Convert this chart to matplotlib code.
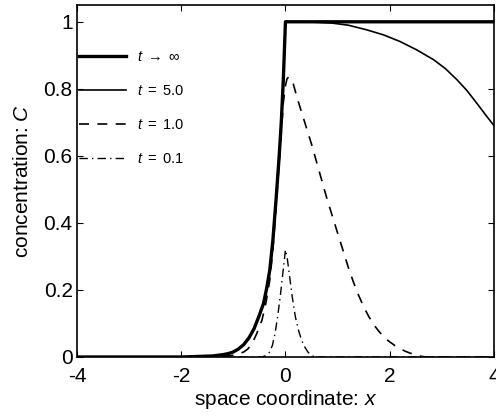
import matplotlib
matplotlib.use("Agg")
import matplotlib.pyplot as plt

# values
x_inf = [-4, -2.0, -1.6, -1.4, -1.2, -1.1, -1.0, -0.9, -0.8, -0.7, -0.6, -0.5, -0.42,
         -0.36, -0.3, -0.24, -0.18, -0.12, -0.08, -0.04, 0.0, 4]
c_inf = [0, 0.0, 0.002, 0.003, 0.007, 0.01, 0.015, 0.024, 0.037, 0.057, 0.085, 0.125, 0.16,
         0.205, 0.26, 0.35, 0.47, 0.60, 0.70, 0.83, 1.0, 1.0]

x_5 = [-4, -2.0, -1.6, -1.4, -1.2, -1.1, -1.0, -0.9, -0.8, -0.7, -0.6, -0.5, -0.42,
       -0.36, -0.3, -0.24, -0.18, -0.12, -0.08, -0.04, 0.0,
       0.4, 0.9, 1.2, 1.56, 1.88, 2.2, 2.52, 2.84, 3.07, 3.29, 3.48, 3.67, 3.85, 4.0]
c_5 = [0, 0.0, 0.002, 0.003, 0.007, 0.01, 0.015, 0.024, 0.037, 0.057, 0.085, 0.125, 0.16,
       0.205, 0.26, 0.35, 0.47, 0.60, 0.70, 0.83, 1.0,
       1.0, 0.996, 0.99, 0.976, 0.961, 0.941, 0.916, 0.887, 0.86, 0.827, 0.795, 0.757,
       0.72, 0.69]

x_1 = [-4, -1.4, -1.2, -1.0, -0.9, -0.8, -0.72, -0.64, -0.55, -0.45, -0.37, -0.3,
       -0.24, -0.18, -0.12, -0.08, -0.04, 0.0, 0.03, 0.06, 0.1, 0.15, 0.22, 0.3, 0.4,
       0.5, 0.6, 0.7, 0.8, 0.9, 1.0, 1.1, 1.2, 1.3, 1.4, 1.5, 1.6, 1.7, 1.8, 1.9, 2.0,
       2.1, 2.2, 2.3, 2.4, 2.5, 2.6, 2.7, 4]
c_1 = [0, 0.0, 0.002, 0.005, 0.009, 0.015, 0.024, 0.04, 0.07, 0.11, 0.165, 0.23,
       0.32, 0.45, 0.58, 0.67, 0.76, 0.81, 0.83, 0.835, 0.83, 0.815, 0.775, 0.735, 0.685,
       0.635, 0.58, 0.525, 0.47, 0.42, 0.37, 0.32, 0.27, 0.225, 0.185, 0.15, 0.12, 0.095,
       0.075, 0.058, 0.045, 0.034, 0.025, 0.017, 0.011, 0.006, 0.002, 0.0, 0]

x_01 = [-4, -0.45, -0.38, -0.3, -0.25, -0.2, -0.15, -0.1, -0.05, 0.0, 0.03, 0.08, 0.13,
        0.19, 0.25, 0.3, 0.35, 0.43, 0.5, 0.56, 4]
c_01 = [0, 0.0, 0.004, 0.015, 0.035, 0.07, 0.12, 0.18, 0.25, 0.32, 0.30, 0.24, 0.18,
        0.12, 0.08, 0.055, 0.035, 0.015, 0.005, 0.0, 0]

labels = [r"$t\ \rightarrow\ \infty$", r"$t\ =\ 5.0$", r"$t\ =\ 1.0$", r"$t\ =\ 0.1$"]
xticks = [-4, -2, 0, 2, 4]
yticks = [0, 0.2, 0.4, 0.6, 0.8, 1]
ytick_labels = ["0", "0.2", "0.4", "0.6", "0.8", "1"]

plt.rcParams["font.family"] = ["Liberation Sans", "DejaVu Sans"]
plt.rcParams["mathtext.fontset"] = "custom"
plt.rcParams["mathtext.rm"] = "Liberation Sans"
plt.rcParams["mathtext.it"] = "Liberation Sans:italic"

fig = plt.figure(figsize=(4.96, 4.19), dpi=100)
ax = fig.add_axes([0.155, 0.148, 0.841, 0.840])

ax.plot(x_inf, c_inf, "-", color="black", linewidth=2.4, label=labels[0])
ax.plot(x_5, c_5, "-", color="black", linewidth=1.2, label=labels[1])
ax.plot(x_1, c_1, color="black", linewidth=1.2, linestyle=(0, (6, 5)), label=labels[2])
ax.plot(x_01, c_01, color="black", linewidth=1.0, linestyle=(0, (6, 3, 1, 3)),
        label=labels[3])

ax.set_xlim(-4, 4)
ax.set_ylim(0, 1.05)
ax.set_xticks(xticks)
ax.set_xticklabels([str(v) for v in xticks])
ax.set_yticks(yticks)
ax.set_yticklabels(ytick_labels)
ax.tick_params(direction="in", length=4, width=0.8, top=True, right=True, labelsize=15)
ax.tick_params(axis="x", pad=7)
ax.tick_params(axis="y", pad=3)
for s in ax.spines.values():
    s.set_linewidth(1.2)

ax.set_xlabel(r"space coordinate: $x$", fontsize=15, labelpad=2)
ax.set_ylabel(r"concentration: $C$", fontsize=15, labelpad=8)

ax.legend(loc="upper left", bbox_to_anchor=(0.005, 0.871), frameon=False,
          fontsize=10.5, handlelength=3.2, handletextpad=0.75, labelspacing=1.36,
          borderpad=0, borderaxespad=0)

fig.savefig("out.png", dpi=100)
